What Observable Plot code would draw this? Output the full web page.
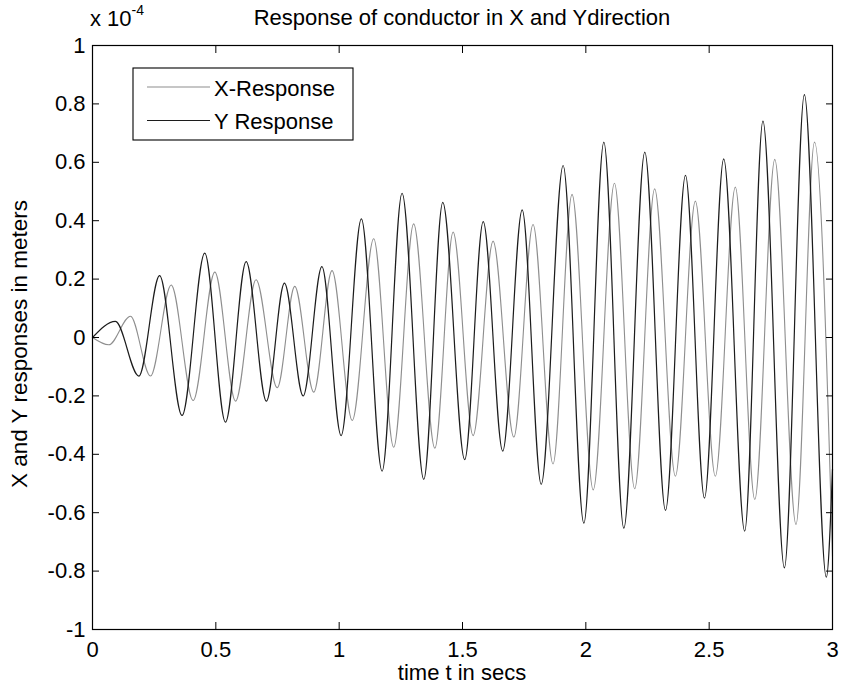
<!DOCTYPE html>
<html><head><meta charset="utf-8">
<script src="https://cdn.jsdelivr.net/npm/d3@7"></script>
<script src="https://cdn.jsdelivr.net/npm/@observablehq/plot@0.6"></script>
<style>body{margin:0;background:#fff} #chart{width:841px;height:694px}</style>
</head><body><div id="chart"></div>
<script>
// X-Response (light grey), values in units of 1e-4 m
const timeX = [0, 0.066, 0.154, 0.235, 0.319, 0.408, 0.496, 0.58, 0.663, 0.749, 0.82, 0.897, 0.971, 1.053, 1.14, 1.221, 1.302, 1.388, 1.462, 1.543, 1.624, 1.708, 1.786, 1.867, 1.944, 2.03, 2.116, 2.198, 2.279, 2.363, 2.444, 2.525, 2.606, 2.685, 2.766, 2.852, 2.927, 3.0];
const xResponse = [0, -0.025, 0.073, -0.132, 0.18, -0.216, 0.224, -0.218, 0.198, -0.172, 0.175, -0.187, 0.229, -0.284, 0.338, -0.376, 0.389, -0.379, 0.361, -0.336, 0.33, -0.341, 0.387, -0.433, 0.49, -0.522, 0.528, -0.518, 0.509, -0.475, 0.467, -0.475, 0.515, -0.555, 0.61, -0.64, 0.669, -0.75];
// Y Response (dark)
const timeY = [0, 0.093, 0.188, 0.272, 0.363, 0.455, 0.539, 0.623, 0.705, 0.778, 0.854, 0.93, 1.008, 1.09, 1.174, 1.255, 1.343, 1.42, 1.509, 1.584, 1.663, 1.742, 1.819, 1.908, 1.992, 2.073, 2.154, 2.239, 2.323, 2.404, 2.481, 2.559, 2.644, 2.718, 2.805, 2.886, 2.975, 3.0];
const yResponse = [0, 0.055, -0.132, 0.212, -0.267, 0.289, -0.29, 0.26, -0.218, 0.186, -0.2, 0.243, -0.336, 0.406, -0.458, 0.494, -0.486, 0.463, -0.418, 0.397, -0.389, 0.437, -0.503, 0.589, -0.636, 0.669, -0.653, 0.635, -0.592, 0.555, -0.55, 0.612, -0.663, 0.741, -0.789, 0.832, -0.821, -0.45];

const xTicks = [0, 0.5, 1, 1.5, 2, 2.5, 3];
const yTicks = [-1, -0.8, -0.6, -0.4, -0.2, 0, 0.2, 0.4, 0.6, 0.8, 1];
const seriesNames = ["X-Response", "Y Response"];
const seriesColors = ["#8e8e8e", "#1c1c1c"];
const titleText = "Response of conductor in X and Ydirection";
const xLabel = "time t in secs";
const yLabel = "X and Y responses in meters";

const xData = timeX.map((t, i) => ({t, v: xResponse[i]}));
const yData = timeY.map((t, i) => ({t, v: yResponse[i]}));
const fmt = d => String(d);

const W = 841, H = 694, mL = 92, mR = 9, mT = 45, mB = 65;
const font = "'Liberation Sans', Arial, Helvetica, sans-serif";

const svg = Plot.plot({
  width: W, height: H, marginLeft: mL, marginRight: mR, marginTop: mT, marginBottom: mB,
  style: {fontFamily: font, fontSize: "22px", background: "#fff", color: "#000", overflow: "visible"},
  x: {domain: [0, 3]},
  y: {domain: [-1, 1]},
  marks: [
    Plot.line(xData, {x: "t", y: "v", stroke: seriesColors[0], strokeWidth: 1.1, curve: "monotone-x"}),
    Plot.line(yData, {x: "t", y: "v", stroke: seriesColors[1], strokeWidth: 1.2, curve: "monotone-x"}),
    Plot.axisX(xTicks, {anchor: "bottom", tickSize: -7, tickPadding: 19, tickFormat: fmt, label: null}),
    Plot.axisX(xTicks, {anchor: "top", tickSize: -7, tickFormat: () => "", label: null}),
    Plot.axisY(yTicks, {anchor: "left", tickSize: -7, tickPadding: 14, tickFormat: fmt, label: null}),
    Plot.axisY(yTicks, {anchor: "right", tickSize: -7, tickFormat: () => "", label: null}),
    Plot.frame({stroke: "#000", strokeWidth: 1.2})
  ]
});
document.getElementById("chart").appendChild(svg);

const s = d3.select(svg);
const cx = (mL + (W - mR)) / 2;
const addText = (x, y, str, anchor, size) => s.append("text").attr("x", x).attr("y", y)
  .attr("text-anchor", anchor).style("font-family", font).style("font-size", size || "22px").text(str);
addText(cx, 25, titleText, "middle");
// exponent label
const ex = s.append("text").attr("x", 90).attr("y", 26).attr("text-anchor", "start")
  .style("font-family", font).style("font-size", "22px");
ex.append("tspan").text("x 10");
ex.append("tspan").attr("dy", -11).style("font-size", "14px").text("-4");
// axis labels
addText(cx, 680, xLabel, "middle");
s.append("text").attr("transform", "translate(27,344) rotate(-90)").attr("text-anchor", "middle")
  .style("font-family", font).style("font-size", "22.5px").text(yLabel);
// legend
const lg = s.append("g");
lg.append("rect").attr("x", 133).attr("y", 68).attr("width", 220).attr("height", 72)
  .attr("fill", "#fff").attr("stroke", "#000").attr("stroke-width", 1.1);
const rowsY = [87, 120.5];
seriesNames.forEach((name, i) => {
  lg.append("line").attr("x1", 147).attr("x2", 210).attr("y1", rowsY[i]).attr("y2", rowsY[i])
    .attr("stroke", seriesColors[i]).attr("stroke-width", 1.2);
  lg.append("text").attr("x", 214).attr("y", rowsY[i] + 8.5).attr("text-anchor", "start")
    .style("font-family", font).style("font-size", "22px").text(name);
});
</script></body></html>
